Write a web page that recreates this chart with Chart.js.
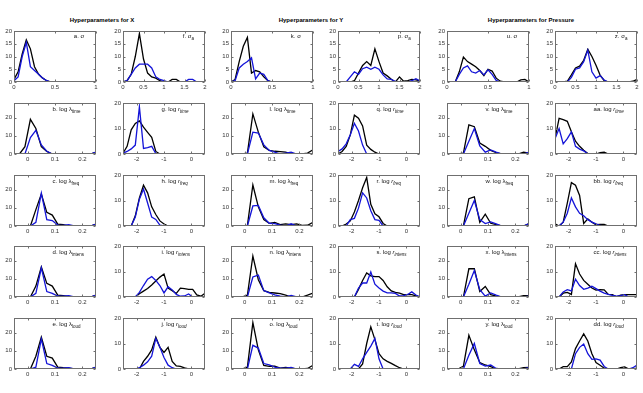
<!DOCTYPE html>
<html><head><meta charset="utf-8">
<script src="https://cdn.jsdelivr.net/npm/chart.js@4"></script>
<style>
body{margin:0;background:#fff;width:643px;height:393px;position:relative;overflow:hidden;font-family:'Liberation Sans',Arial,sans-serif}
canvas{position:absolute}
.ttl{position:absolute;top:17px;font-weight:bold;font-size:6px;line-height:7px;transform:translateX(-50%);white-space:nowrap;color:#000}
</style></head><body>
<div class="ttl" style="left:102px">Hyperparameters for X</div>
<div class="ttl" style="left:311px">Hyperparameters for Y</div>
<div class="ttl" style="left:531px">Hyperparameters for Pressure</div>
<script>
// ---- bin centres (x categories) ----
const sigmaBins  = [0,0.05,0.1,0.15,0.2,0.25,0.3,0.35,0.4,0.45,0.5,0.55,0.6,0.65,0.7,0.75,0.8,0.85,0.9,0.95,1];
const sigmaABins = [0,0.1,0.2,0.3,0.4,0.5,0.6,0.7,0.8,0.9,1,1.1,1.2,1.3,1.4,1.5,1.6,1.7,1.8,1.9,2];
const lambdaBins = [-0.05,-0.03,-0.01,0.01,0.03,0.05,0.07,0.09,0.11,0.13,0.15,0.17,0.19,0.21,0.23,0.25];
const rBins      = [-2.5,-2.35,-2.2,-2.05,-1.9,-1.75,-1.6,-1.45,-1.3,-1.15,-1,-0.85,-0.7,-0.55,-0.4,-0.25,-0.1,0.05,0.2,0.35,0.5];

// ---- tick labels ----
const sigmaTicks  = [0,0.5,1];
const sigmaATicks = [0,0.5,1,1.5,2];
const lambdaTicks = [0,0.1,0.2];
const rTicks      = [-2,-1,0];
const yTicksRow1  = [0,5,10,15,20];
const yTicksOther = [0,10,20];

// ---- Hyperparameters for X ----
const aBlack = [1,4,11,16.5,13,6,3,1.5,0.5,0,0,0,0,0,0,0,0,0,0,0,0];
const aBlue  = [0.5,2,10,15.5,6,4.5,3,1.5,0.5,0,0,0,0,0,0,0,0,0,0,0,0];
const bBlack = [0,0,4,19,14,4,1.4,0,0,0,0,0,0,0,0,1];
const bBlue  = [0,0,0,9,13,5,1.5,0,0,0,0,0,0,0,0,1];
const cBlack = [0,0,0,0,9,17.5,7.5,6,1,0.7,0,0,0,0,0,1];
const cBlue  = [0,0,0,0,2,18,3.5,3,0.5,0.3,0.8,0,0,0,0,1];
const dBlack = [0,0,0,0,6,16.5,7.5,6,1,0.7,0.4,0,0,0,0,1];
const dBlue  = [0,0,0,0,2,16,3,2,0.5,0.5,0.7,0,0,0,0,1];
const eBlack = [0,0,0,0,7,17.5,7,6,1,0.7,0.5,0,0,0,0,1];
const eBlue  = [0,0,0,0,1,16.5,3,2,0.5,0.5,0.8,0,0,0,0,1];
const fBlack = [0,0.5,3,10,19,9,3.5,2,1.5,0.5,0,0,1,1,0,0,0,0,0,0,0];
const fBlue  = [0,0.5,3,5.5,7,7,7,5.5,2,1,0.5,0,0,0,0,0,1,1,0,0,0];
const gBlack = [0.3,3,9.5,12,13,10.5,8.5,6.5,1,0,0,0,0,0,0,0,0,0,0,0,0];
const gBlue  = [0.3,1,2,3.5,18.5,2.2,2.5,3,0.2,0,0,0,0,0,0,0,0,0,0,0,0];
const hBlack = [0,0,0,4,11,16,13,7.5,4.5,2,0.8,0,0,0,0,0,0,0,0,0,0];
const hBlue  = [0,0,0,3.5,10.5,14.5,9,3.5,2.6,0.3,0,0,0,0,0,0,0,0,0,0,0];
const iBlack = [0,0,0,0,1.3,2.3,3.3,4.7,6.3,7.8,9,3.5,2.5,1.4,3.5,3.3,3,3,0.8,0.3,1.5];
const iBlue  = [0,0,0,0,1.8,4.5,7,8,6.5,4.5,1.6,4,2.8,1,0.3,0.4,1.2,0,0,0,0];
const jBlack = [0,0,0,0,0,3,5,7.5,12.5,8.5,6.5,8.5,3,1.2,1,0.4,0,0,0,0,0];
const jBlue  = [0,0,0,0,0.5,1.5,2.8,5,12,8.5,4.5,1.5,0.5,0,0,0,0,0,0,0,0];

// ---- Hyperparameters for Y ----
const kBlack = [0,1,8,14,17.5,3.5,4.5,4,2,0.5,0,0,0,0,0,0,0,0,0,0,0];
const kBlue  = [0,0.5,5.5,7,8,9.5,1.2,3.5,3,0.5,0,0,0,0,0,0,0,0,0,0,0];
const lBlack = [0,0,0,0.5,22,12,4,2,1.5,1.3,1,0,0,0,0.5,2.3];
const lBlue  = [0,0,0,0,12,11.5,5,2,1,0,0.5,1,0,0,0,0];
const mBlack = [0,0,0,0.3,22.5,10.5,3.5,1.5,2,0.8,1.2,0.8,1.2,0.3,0.4,2];
const mBlue  = [0,0,0,0,11,11.3,4.5,1.5,1.3,0.5,0,1.2,0,0,0,0];
const nBlack = [0,0,0,1,22.5,9.5,3.5,2.5,2.2,1.8,1,0,0,0,1,2.2];
const nBlue  = [0,0,0,0,11,12,3.5,2.3,1.2,0.5,0,0.8,0,0,0,0];
const oBlack = [0,0,0,1,25.5,10.5,2,1.5,1.5,0.5,0.9,0.5,0,0,0.3,2];
const oBlue  = [0,0,0,0,13,11.5,3,2.2,1,0.5,0.5,0.9,0,0,0,0];
const pBlack = [0,0,0,0,0.5,3.5,6.5,8,6.5,13,8,3.5,2.4,1.1,0,2,0.3,0.5,1,0.8,0.4];
const pBlue  = [0,0,0,2,4,3,5.2,5.8,5,5.8,5,2.8,1.2,1,0.2,0,0,0,0.5,1.3,0.4];
const qBlack = [0,1,3,7.5,15.2,14,11,3.5,1.8,0.7,0,0,0,0,0,0,0,0,0,0,0];
const qBlue  = [1,2,4,7.5,12,9,3.5,0,0,0,0,0,0,0,0,0,0,0,0,0,0];
const rBlack = [0,0,0.8,2,5.5,10,15,19,8.5,4.8,3.6,1,0,0,0,0,0,0,0,0,0];
const rBlue  = [0,0,0,2.5,3,7,13,11,6,2.5,2.2,0,0,0,0,0,0,0,0,0,0];
const sBlack = [0,0,0,0,0,3,6.5,9.4,8.3,8,8,6.5,4,2.4,1.8,1.5,0.9,0.9,0.9,0.4,0];
const sBlue  = [0,0,0,0,0,3.5,5.5,5.5,9.8,5,3.5,2.3,1.6,1.6,1.4,0.4,0.5,1,2,0.8,0];
const tBlack = [0,0,0,0,0,0,2,10,16.5,11.5,6,4,3,2.2,1.3,0.5,0,0,0,0,0];
const tBlue  = [0,0,0,0,1.8,1,4,6.5,9,12,4,0,0,0,0,0,0,0,0,0,0];

// ---- Hyperparameters for Pressure ----
const uBlack = [0,0,0,4,9.8,8,7,6,4.5,2.5,5,4.3,1.5,0.3,0,0,0,0,0.8,1,0];
const uBlue  = [0,0,0,3,5.5,6.3,4,3.5,4.5,2.8,4.8,3,0.6,0,0,0,0,0,0,0,0];
const vBlack = [0,0,0,0.5,16,15,6,4.2,2,0.7,0,0,0,0,1,0.5];
const vBlue  = [0,0,0,0,7,14,4.5,1,2.2,1,0,0,0,0,0,1];
const wBlack = [0,0,0,0,15,16,2,6.5,1.5,0.7,0,0,0,0,0,1.3];
const wBlue  = [0,0,0,0,7,14,3.5,1.3,2.2,1.2,0,0,0,0,0,1.3];
const xBlack = [0,0,0,0,15.5,15.5,3,5.8,1.3,0.5,0,0,0,0,0.7,0.7];
const xBlue  = [0,0,0,0,7,14.5,4,0.5,2.2,1,0,0,0,0,0,0.5];
const yBlack = [0,0,0,1.5,18.5,10.5,3.5,2.2,1.3,0,0,0,0,0,0.7,0.9];
const yBlue  = [0,0,0,0,7.5,14,3,1.6,2.2,0.3,0,0,0,0,0,0.8];
const zBlack = [0,0,0,0.3,2.8,5.5,6.2,8.5,12.8,10,6.6,2.7,0.5,0,0,0,0,0,0,0.3,1];
const zBlue  = [0,0,0,0,1.8,5,5.5,8,12.5,4,1.5,2.5,0.8,0,0,0,0,0,0,0,0];
const aaBlack = [6,14,13.5,12.8,8.7,5,3,1.5,0.2,0,0,0.5,0.7,0,0,0,0,0,0,0,0];
const aaBlue  = [6,10,4,6,8.7,3,1.9,1.2,0.1,0,0,0,0,0,0,0,0,0,0,0,0];
const bbBlack = [0.9,0,1.5,9,17,16,12,1,2.8,1.5,0.5,0.6,0.6,0,0,0,0,0,0,0,0];
const bbBlue  = [0,0,1.5,5,11,7.5,5,4,2.5,1.5,0.8,0.2,0,0,0,0,0,0,0,0,0];
const ccBlack = [0,0,1.5,1.8,1,13,9,6.5,5,3.5,2.7,2.9,2.8,1,0.9,0.1,0.7,0.9,0.9,0.9,0.9];
const ccBlue  = [0,0,2,2.9,2.4,7,4.5,3,3.5,4.2,3.3,2.3,1.5,1,0.6,0.3,0.5,0.9,0,0,0];
const ddBlack = [0,0,0.9,0.9,2.8,8,11,13.8,11,6,2.5,1.5,0.3,0,0,0,0.5,0.8,0,0,0.3];
const ddBlue  = [0,0,0,0,0,6,8.5,9.8,6,3.8,4,3.5,1,0,0,0,0,0,0,0.5,1.5];

// ---- panel table: grid position, axis type, data, label ----
const panels = [
  {r:0,c:0,t:'sigma', x:sigmaBins, k:aBlack, b:aBlue, lab:'a. σ'},
  {r:1,c:0,t:'lambda',x:lambdaBins,k:bBlack, b:bBlue, lab:'b. log λ', sub:'time'},
  {r:2,c:0,t:'lambda',x:lambdaBins,k:cBlack, b:cBlue, lab:'c. log λ', sub:'freq'},
  {r:3,c:0,t:'lambda',x:lambdaBins,k:dBlack, b:dBlue, lab:'d. log λ', sub:'intens'},
  {r:4,c:0,t:'lambda',x:lambdaBins,k:eBlack, b:eBlue, lab:'e. log λ', sub:'loud'},
  {r:0,c:1,t:'sigmaA',x:sigmaABins,k:fBlack, b:fBlue, lab:'f. σ', sub:'a'},
  {r:1,c:1,t:'r',     x:rBins,     k:gBlack, b:gBlue, lab:'g. log ', it:'r', sub:'time'},
  {r:2,c:1,t:'r',     x:rBins,     k:hBlack, b:hBlue, lab:'h. log ', it:'r', sub:'freq'},
  {r:3,c:1,t:'r',     x:rBins,     k:iBlack, b:iBlue, lab:'i. log ', it:'r', sub:'intens'},
  {r:4,c:1,t:'r',     x:rBins,     k:jBlack, b:jBlue, lab:'j. log ', it:'r', sub:'loud'},
  {r:0,c:2,t:'sigma', x:sigmaBins, k:kBlack, b:kBlue, lab:'k. σ'},
  {r:1,c:2,t:'lambda',x:lambdaBins,k:lBlack, b:lBlue, lab:'l. log λ', sub:'time'},
  {r:2,c:2,t:'lambda',x:lambdaBins,k:mBlack, b:mBlue, lab:'m. log λ', sub:'freq'},
  {r:3,c:2,t:'lambda',x:lambdaBins,k:nBlack, b:nBlue, lab:'n. log λ', sub:'intens'},
  {r:4,c:2,t:'lambda',x:lambdaBins,k:oBlack, b:oBlue, lab:'o. log λ', sub:'loud'},
  {r:0,c:3,t:'sigmaA',x:sigmaABins,k:pBlack, b:pBlue, lab:'p. σ', sub:'a'},
  {r:1,c:3,t:'r',     x:rBins,     k:qBlack, b:qBlue, lab:'q. log ', it:'r', sub:'time'},
  {r:2,c:3,t:'r',     x:rBins,     k:rBlack, b:rBlue, lab:'r. log ', it:'r', sub:'freq'},
  {r:3,c:3,t:'r',     x:rBins,     k:sBlack, b:sBlue, lab:'s. log ', it:'r', sub:'intens'},
  {r:4,c:3,t:'r',     x:rBins,     k:tBlack, b:tBlue, lab:'t. log ', it:'r', sub:'loud'},
  {r:0,c:4,t:'sigma', x:sigmaBins, k:uBlack, b:uBlue, lab:'u. σ'},
  {r:1,c:4,t:'lambda',x:lambdaBins,k:vBlack, b:vBlue, lab:'v. log λ', sub:'time'},
  {r:2,c:4,t:'lambda',x:lambdaBins,k:wBlack, b:wBlue, lab:'w. log λ', sub:'freq'},
  {r:3,c:4,t:'lambda',x:lambdaBins,k:xBlack, b:xBlue, lab:'x. log λ', sub:'intens'},
  {r:4,c:4,t:'lambda',x:lambdaBins,k:yBlack, b:yBlue, lab:'y. log λ', sub:'loud'},
  {r:0,c:5,t:'sigmaA',x:sigmaABins,k:zBlack, b:zBlue, lab:'z. σ', sub:'a'},
  {r:1,c:5,t:'r',     x:rBins,     k:aaBlack,b:aaBlue,lab:'aa. log ', it:'r', sub:'time'},
  {r:2,c:5,t:'r',     x:rBins,     k:bbBlack,b:bbBlue,lab:'bb. log ', it:'r', sub:'freq'},
  {r:3,c:5,t:'r',     x:rBins,     k:ccBlack,b:ccBlue,lab:'cc. log ', it:'r', sub:'intens'},
  {r:4,c:5,t:'r',     x:rBins,     k:ddBlack,b:ddBlue,lab:'dd. log ', it:'r', sub:'loud'}
];

const axisTypes = {
  sigma:  {xmin:0, xmax:1, xt:sigmaTicks, ymax:20, yt:yTicksRow1},
  sigmaA: {xmin:0, xmax:2, xt:sigmaATicks, ymax:20, yt:yTicksRow1},
  lambda: {xmin:-0.05, xmax:0.25, xt:lambdaTicks, ymax:28, yt:yTicksOther},
  r:      {xmin:-2.5, xmax:0.5, xt:rTicks, ymax:20, yt:yTicksOther}
};

// ---- layout (pixels) ----
const colLeft = [14,123,231,338,447,555];
const rowTop  = [31,103,175,246,318];
const plotW = 82, plotH = 51;
const padL = 22, padT = 6, padR = 6, padB = 14;
const FRAME = '#6f6f6f', TXT = '#333', BLUE = '#1414d8';
const FONT = "'Liberation Sans', Arial, sans-serif";

Chart.defaults.font.family = FONT;
Chart.defaults.font.size = 6;

const panelPlugin = {
  id: 'panelDeco',
  afterDraw(chart) {
    const o = chart.options.plugins.panelDeco;
    const {ctx, chartArea:a, scales:{x, y}} = chart;
    ctx.save();
    ctx.strokeStyle = FRAME; ctx.lineWidth = 1;
    const L = Math.round(a.left) + 0.5, R = Math.round(a.right) - 0.5;
    const T = Math.round(a.top) + 0.5, B = Math.round(a.bottom) - 0.5;
    ctx.strokeRect(L, T, R - L, B - T);
    ctx.beginPath();
    o.xt.forEach(v => {
      const px = Math.round(x.getPixelForValue(v)) + 0.5;
      ctx.moveTo(px, B); ctx.lineTo(px, B - 2);
      ctx.moveTo(px, T); ctx.lineTo(px, T + 2);
    });
    o.yt.forEach(v => {
      const py = Math.round(y.getPixelForValue(v)) + 0.5;
      ctx.moveTo(L, py); ctx.lineTo(L + 2, py);
      ctx.moveTo(R, py); ctx.lineTo(R - 2, py);
    });
    ctx.stroke();
    // label
    const p = o.p;
    let tx = a.left + (p.r === 0 ? 0.73 : 0.47) * (a.right - a.left);
    const ty = a.top + (p.r === 0 ? 7 : 8);
    ctx.fillStyle = '#111';
    ctx.textBaseline = 'alphabetic';
    ctx.textAlign = 'left';
    ctx.font = '6px ' + FONT;
    ctx.fillText(p.lab, tx, ty); tx += ctx.measureText(p.lab).width;
    if (p.it) {
      ctx.font = 'italic 6px ' + FONT;
      ctx.fillText(p.it, tx, ty); tx += ctx.measureText(p.it).width;
    }
    if (p.sub) {
      ctx.font = (p.it ? 'italic ' : '') + '4.5px ' + FONT;
      ctx.fillText(p.sub, tx, ty + 2);
    }
    ctx.restore();
  }
};

panels.forEach(p => {
  const ax = axisTypes[p.t];
  const W = plotW + padL + padR, H = plotH + padT + padB;
  const cv = document.createElement('canvas');
  cv.width = W; cv.height = H;
  cv.style.left = (colLeft[p.c] - padL) + 'px';
  cv.style.top = (rowTop[p.r] - padT) + 'px';
  cv.style.width = W + 'px'; cv.style.height = H + 'px';
  document.body.appendChild(cv);
  new Chart(cv, {
    type: 'line',
    data: { datasets: [
      { data: p.x.map((v, i) => ({x: v, y: p.b[i]})), borderColor: BLUE, borderWidth: 1.3, order: 0 },
      { data: p.x.map((v, i) => ({x: v, y: p.k[i]})), borderColor: '#000', borderWidth: 1.3, order: 1 }
    ]},
    options: {
      responsive: false, animation: false, devicePixelRatio: 1, events: [],
      layout: { padding: { left: 0, top: padT, right: padR, bottom: 0 } },
      elements: { point: { radius: 0 }, line: { tension: 0 } },
      plugins: { legend: { display: false }, tooltip: { enabled: false },
                 panelDeco: { p: p, xt: ax.xt, yt: ax.yt } },
      scales: {
        x: { type: 'linear', min: ax.xmin, max: ax.xmax,
             grid: { display: false, drawTicks: false }, border: { display: false },
             ticks: { padding: 2, color: TXT, font: { size: 6 }, maxRotation: 0, minRotation: 0, autoSkip: false,
                      callback: v => String(v) },
             afterBuildTicks: s => { s.ticks = ax.xt.map(v => ({ value: v })); },
             afterFit: s => { s.height = padB; s.paddingLeft = 0; s.paddingRight = 0; s.paddingTop = 0; s.paddingBottom = 0; } },
        y: { type: 'linear', min: 0, max: ax.ymax,
             grid: { display: false, drawTicks: false }, border: { display: false },
             ticks: { padding: 2, color: TXT, font: { size: 6 }, autoSkip: false, callback: v => String(v) },
             afterBuildTicks: s => { s.ticks = ax.yt.map(v => ({ value: v })); },
             afterFit: s => { s.width = padL; s.paddingLeft = 0; s.paddingRight = 0; s.paddingTop = 0; s.paddingBottom = 0; } }
      }
    },
    plugins: [panelPlugin]
  });
});
</script>
</body></html>
